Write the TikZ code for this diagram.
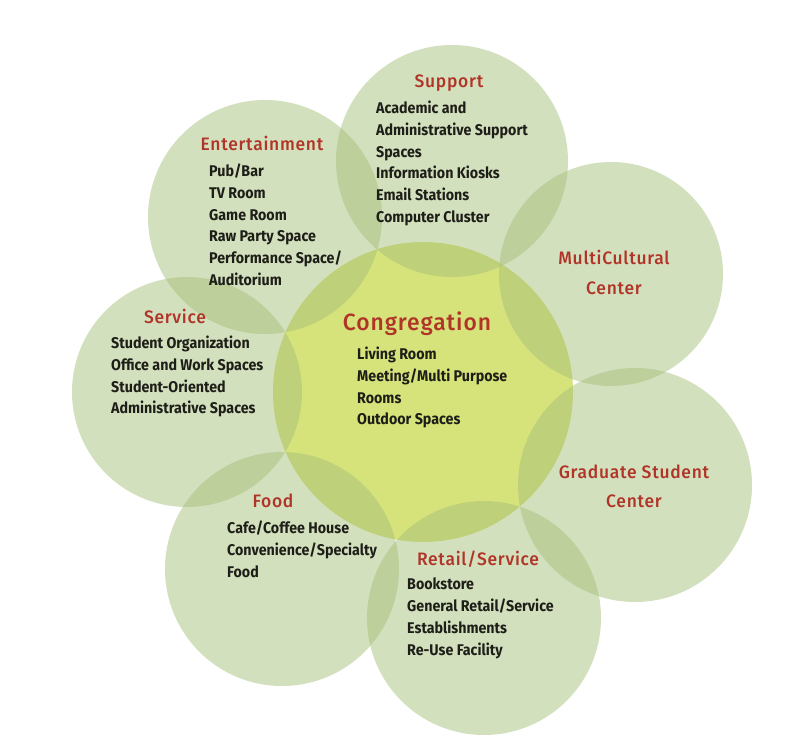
\documentclass[tikz,border=0pt]{standalone}
\usepackage{fontspec}
\setmainfont{Fira Sans}[FakeStretch=0.92]
\newfontfamily\titlefont{Fira Sans Medium}[FakeStretch=0.97, LetterSpace=4]
\definecolor{petalgreen}{RGB}{167,192,122}
\definecolor{centerfill}{RGB}{214,226,122}
\definecolor{titlered}{RGB}{176,52,40}
\definecolor{itemdark}{RGB}{30,30,24}
\newcommand{\fl}{\rule{0pt}{11pt}}
\begin{document}
\begin{tikzpicture}[x=1pt,y=-1pt,
  petal/.style={circle, inner sep=0, fill=petalgreen, fill opacity=0.49, draw=none},
  hub/.style={circle, inner sep=0, fill=centerfill, draw=none},
  title/.style={text=titlered, font=\titlefont\fontsize{18}{20}\selectfont, inner sep=0, anchor=base},
  bigtitle/.style={text=titlered, font=\titlefont\fontsize{23.5}{26}\selectfont, inner sep=0, anchor=base},
  items/.style={text=itemdark, font=\bfseries\fontsize{15.5}{21.7}\selectfont, align=left, anchor=north west, inner sep=0}]
\useasboundingbox (0,0) rectangle (812,749);
\fill[white] (0,0) rectangle (812,749);
% hub
\node[hub, minimum size=300pt] (cong) at (423,392) {};
% petals
\node[petal, minimum size=232pt] (sup) at (452,161) {};
\node[petal, minimum size=234pt] (ent) at (265,217) {};
\node[petal, minimum size=224pt] (mcc) at (611,274) {};
\node[petal, minimum size=230pt] (ser) at (187,392) {};
\node[petal, minimum size=234pt] (gsc) at (635,485) {};
\node[petal, minimum size=234pt] (foo) at (282,569) {};
\node[petal, minimum size=234pt] (ret) at (484,618) {};
% titles
\node[title] (tsup) at (449,88) {Support};
\node[title] (tent) at (262,151) {Entertainment};
\node[title] (tmc1) at (614,265) {MultiCultural};
\node[title] (tmc2) at (614,294) {Center};
\node[title] (tser) at (175,323) {Service};
\node[bigtitle] (tcon) at (417,330) {Congregation};
\node[title] (tgs1) at (634,478) {Graduate Student};
\node[title] (tgs2) at (634,507) {Center};
\node[title] (tfoo) at (273,507) {Food};
\node[title] (tret) at (478,565) {Retail/Service};
% item lists
\node[items] (isup) at (376,101) {\fl Academic and\\Administrative Support\\Spaces\\Information Kiosks\\Email Stations\\Computer Cluster};
\node[items] (ient) at (209,164) {\fl Pub/Bar\\TV Room\\Game Room\\Raw Party Space\\Performance Space/\\Auditorium};
\node[items] (iser) at (111,336) {\fl Student Organization\\Office and Work Spaces\\Student-Oriented\\Administrative Spaces};
\node[items] (icon) at (357,347) {\fl Living Room\\Meeting/Multi Purpose\\Rooms\\Outdoor Spaces};
\node[items] (ifoo) at (227,521) {\fl Cafe/Coffee House\\Convenience/Specialty\\Food};
\node[items] (iret) at (407,578) {\fl Bookstore\\General Retail/Service\\Establishments\\Re-Use Facility};
\end{tikzpicture}
\end{document}
